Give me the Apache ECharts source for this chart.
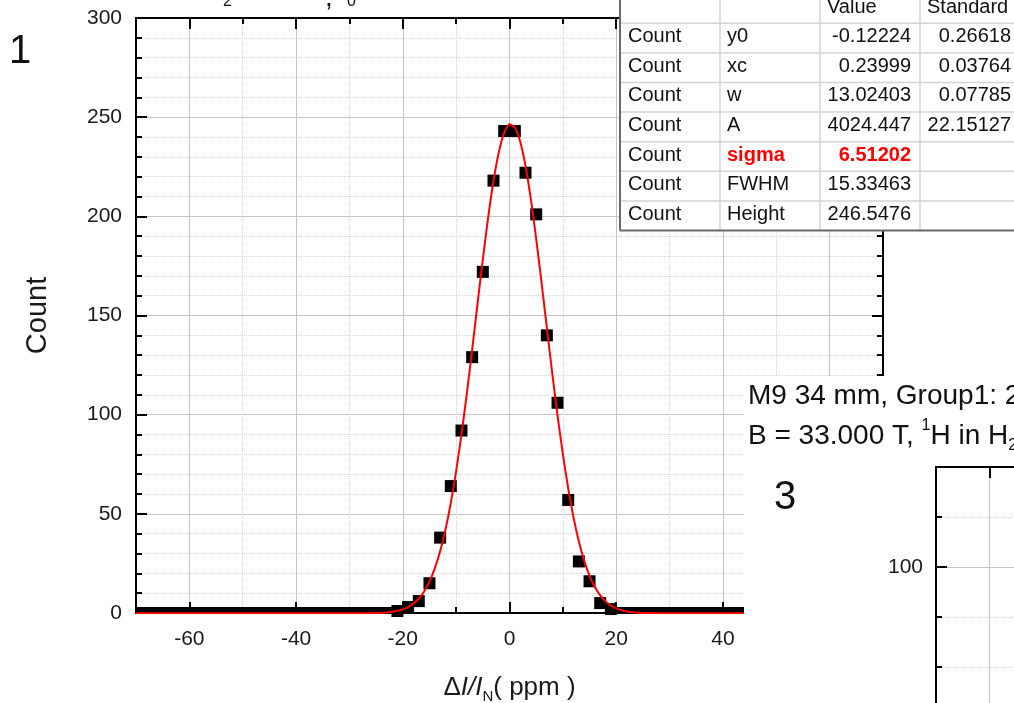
<!DOCTYPE html>
<html>
<head>
<meta charset="utf-8">
<script src="https://cdn.jsdelivr.net/npm/echarts@6/dist/echarts.min.js"></script>
<style>
html, body { margin: 0; padding: 0; background: #fff; }
#chart { width: 1014px; height: 703px; }
</style>
</head>
<body>
<div id="chart"></div>
<script>
// histogram bin centres (ppm) and counts
var binCenters = [-69,-67,-65,-63,-61,-59,-57,-55,-53,-51,-49,-47,-45,-43,-41,-39,-37,-35,-33,-31,-29,-27,-25,-23,
    -21,-19,-17,-15,-13,-11,-9,-7,-5,-3,-1,1,3,5,7,9,11,13,15,17,19,21,
    23,25,27,29,31,33,35,37,39,41,43,45,47,49,51,53,55,57,59,61,63,65,67,69];
var counts = [0,0,0,0,0,0,0,0,0,0,0,0,0,0,0,0,0,0,0,0,0,0,0,0,
    1,3,6,15,38,64,92,129,172,218,243,243,222,201,140,106,57,26,16,5,2,0,
    0,0,0,0,0,0,0,0,0,0,0,0,0,0,0,0,0,0,0,0,0,0,0,0];

// red gaussian fit curve as drawn
var fitCurve = [
    [-70,-0.12],[-50,-0.12],[-30,-0.11],[-26,-0.05],[-25,0.01],[-24,0.12],[-23,0.30],[-22,0.60],
    [-21,1.09],[-20,1.85],[-19,3.02],[-18,4.76],[-17,7.30],[-16,10.88],[-15,15.83],[-14,22.46],
    [-13,31.10],[-12,42.05],[-11,55.49],[-10,71.52],[-9,90.01],[-8,110.65],[-7,132.82],[-6,155.74],
    [-5,178.32],[-4,199.43],[-3,217.83],[-2,232.38],[-1,242.12],[0,246.38],[1,244.88],[2,237.70],
    [3,225.36],[4,208.68],[5,188.71],[6,166.68],[7,143.80],[8,121.15],[9,99.68],[10,80.11],
    [11,62.87],[12,48.18],[13,36.04],[14,26.34],[15,18.77],[16,13.07],[17,8.87],[18,5.86],
    [19,3.77],[20,2.35],[21,1.41],[22,0.81],[23,0.43],[24,0.20],[25,0.06],[26,-0.02],
    [30,-0.11],[50,-0.12],[70,-0.12]
];

// fit result table
var tableHeader = ['', '', 'Value', 'Standard'];
var paramNames = ['y0', 'xc', 'w', 'A', 'sigma', 'FWHM', 'Height'];
var paramValues = ['-0.12224', '0.23999', '13.02403', '4024.447', '6.51202', '15.33463', '246.5476'];
var paramErrors = ['0.26618', '0.03764', '0.07785', '22.15127', '', '', ''];
var highlightRow = 4;

var FONT = '"Liberation Sans", Arial, sans-serif';
var chart = echarts.init(document.getElementById('chart'));

var pts = [], zeros = [];
binCenters.forEach(function (x, i) {
    if (counts[i] > 0) pts.push([x, counts[i]]);
    else zeros.push([x, 0]);
});

var blackLine = { color: '#000', width: 2 };
var majorGrid = { show: true, lineStyle: { color: '#c4c4c4', width: 1 } };
var minorGrid = { show: true, lineStyle: { color: '#d6d6d6', width: 1, type: 'dotted' } };

// minor/major axis pair (x ticks every 10, labels every 20 from -60)
function xAxes(grid, pos, z, withLabels) {
    return [{
        gridIndex: grid, type: 'value', position: pos, min: -70, max: 70, interval: 10, z: z,
        axisLine: { onZero: false, lineStyle: blackLine },
        axisTick: { inside: true, length: 6, lineStyle: blackLine },
        axisLabel: { show: false },
        splitLine: pos === 'bottom' || grid === 1 ? minorGrid : { show: false }
    }, {
        gridIndex: grid, type: 'value', position: pos, min: -70, max: 70, splitNumber: 7, z: z,
        axisLine: { onZero: false, lineStyle: blackLine },
        axisTick: { inside: true, length: 11, lineStyle: blackLine },
        axisLabel: withLabels ? {
            fontSize: 21, fontFamily: FONT, color: '#1a1a1a', margin: 16,
            showMinLabel: false, showMaxLabel: false
        } : { show: false },
        splitLine: pos === 'bottom' || grid === 1 ? majorGrid : { show: false }
    }];
}

var xAxisList = [].concat(xAxes(0, 'bottom', 0, true), xAxes(0, 'top', 0, false), xAxes(1, 'top', 60, false));
xAxisList[1].name = '{n|Δ}{i|I/I}{sub|N}{n|( ppm )}';
xAxisList[1].nameLocation = 'middle';
xAxisList[1].nameGap = 59;
xAxisList[1].nameTextStyle = {
    color: '#1a1a1a', fontFamily: FONT,
    rich: {
        n: { fontSize: 26, fontFamily: FONT, color: '#1a1a1a', lineHeight: 32 },
        i: { fontSize: 26, fontFamily: FONT, color: '#1a1a1a', fontStyle: 'italic', lineHeight: 32 },
        sub: { fontSize: 15, fontFamily: FONT, color: '#1a1a1a', verticalAlign: 'bottom', lineHeight: 4 }
    }
};

var yAxisList = [{
    gridIndex: 0, type: 'value', position: 'left', min: 0, max: 300, interval: 50,
    axisLine: { onZero: false, lineStyle: blackLine },
    axisTick: { inside: true, length: 11, lineStyle: blackLine },
    minorTick: { show: true, splitNumber: 5, length: 6, lineStyle: blackLine },
    axisLabel: { fontSize: 21, fontFamily: FONT, color: '#1a1a1a', margin: 14 },
    splitLine: majorGrid,
    minorSplitLine: minorGrid,
    name: 'Count', nameLocation: 'middle', nameGap: 84,
    nameTextStyle: { fontSize: 29, fontFamily: FONT, color: '#1a1a1a' }
}, {
    gridIndex: 0, type: 'value', position: 'right', min: 0, max: 300, interval: 50,
    axisLine: { onZero: false, lineStyle: blackLine },
    axisTick: { inside: true, length: 11, lineStyle: blackLine },
    minorTick: { show: true, splitNumber: 5, length: 6, lineStyle: blackLine },
    axisLabel: { show: false },
    splitLine: { show: false }
}, {
    gridIndex: 1, type: 'value', position: 'left', min: 0, max: 150, interval: 25, z: 60,
    axisLine: { onZero: false, lineStyle: blackLine },
    axisTick: { inside: true, length: 6, lineStyle: blackLine },
    axisLabel: { show: false },
    splitLine: minorGrid
}, {
    gridIndex: 1, type: 'value', position: 'left', min: 0, max: 150, interval: 100, z: 60,
    axisLine: { onZero: false, lineStyle: blackLine },
    axisTick: { inside: true, length: 11, lineStyle: blackLine },
    axisLabel: { fontSize: 21, fontFamily: FONT, color: '#1a1a1a', margin: 13, showMaxLabel: false },
    splitLine: majorGrid
}];

// overlays: cut-off title, panel numbers, panel 3, fit table
var els = [];
function txt(x, y, s, size, extra) {
    var style = { text: s, fontSize: size, fontFamily: FONT, fill: '#111', verticalAlign: 'middle' };
    for (var k in extra) style[k] = extra[k];
    return { type: 'text', x: x, y: y, z: 80, style: style };
}
els.push(txt(223, -6.5, '2', 16, { verticalAlign: 'top' }));
els.push(txt(325, -16, ',', 28, { verticalAlign: 'top' }));
els.push(txt(347, -6.5, '0', 16, { verticalAlign: 'top' }));
els.push(txt(9, 52, '1', 40));

els.push({ type: 'rect', z: 50, shape: { x: 744, y: 376, width: 270, height: 327 }, style: { fill: '#fff' } });
els.push(txt(748, 396, 'M9 34 mm, Group1: 2', 28));
els.push(txt(748, 436, '{n|B = 33.000 T, }{sup|1}{n|H in H}{sub|2}{n|O}', 28, {
    rich: {
        n: { fontSize: 28, fontFamily: FONT, fill: '#111', lineHeight: 36 },
        sup: { fontSize: 16, fontFamily: FONT, fill: '#111', verticalAlign: 'top', lineHeight: 20 },
        sub: { fontSize: 16, fontFamily: FONT, fill: '#111', verticalAlign: 'bottom', lineHeight: 5 }
    }
}));
els.push(txt(774, 498, '3', 40));

var tX = 620, tColW = 100, tTop = -6.3, tRowH = 29.6;
var tBottom = tTop + 8 * tRowH;
els.push({ type: 'rect', z: 70, shape: { x: tX, y: -12, width: 400, height: tBottom + 12 }, style: { fill: '#fff' } });
for (var r = 1; r < 8; r++) {
    var ly = tTop + r * tRowH;
    els.push({ type: 'line', z: 71, shape: { x1: tX, y1: ly, x2: 1014, y2: ly }, style: { stroke: '#d4d4d4', lineWidth: 1.5 } });
}
for (var c = 1; c < 4; c++) {
    var lx = tX + c * tColW;
    els.push({ type: 'line', z: 71, shape: { x1: lx, y1: -12, x2: lx, y2: tBottom }, style: { stroke: '#d4d4d4', lineWidth: 1.5 } });
}
els.push({ type: 'line', z: 72, shape: { x1: tX, y1: -12, x2: tX, y2: tBottom }, style: { stroke: '#6a6a6a', lineWidth: 2 } });
els.push({ type: 'line', z: 72, shape: { x1: tX, y1: tBottom, x2: 1014, y2: tBottom }, style: { stroke: '#6a6a6a', lineWidth: 2 } });

function cellY(row) { return tTop + row * tRowH + tRowH / 2 - 1.5; }
els.push(txt(tX + 2 * tColW + 7, cellY(0), tableHeader[2], 20));
els.push(txt(tX + 3 * tColW + 7, cellY(0), tableHeader[3], 20));
paramNames.forEach(function (name, i) {
    var y = cellY(i + 1);
    var hl = i === highlightRow ? { fill: '#ff0000', fontWeight: 'bold' } : {};
    els.push(txt(tX + 8, y, 'Count', 20));
    els.push(txt(tX + tColW + 7, y, name, 20, hl));
    els.push(txt(tX + 3 * tColW - 9, y, paramValues[i], 20, Object.assign({ align: 'right' }, hl)));
    if (paramErrors[i]) els.push(txt(tX + 4 * tColW - 9, y, paramErrors[i], 20, { align: 'right' }));
});

var option = {
    animation: false,
    backgroundColor: '#fff',
    grid: [
        { left: 136, top: 18, width: 747, height: 595, outerBoundsMode: 'none', containLabel: false },
        { left: 936, top: 467, width: 747, height: 300, outerBoundsMode: 'none', containLabel: false }
    ],
    xAxis: xAxisList,
    yAxis: yAxisList,
    series: [{
        name: 'Count', type: 'scatter', xAxisIndex: 0, yAxisIndex: 0,
        symbol: 'rect', symbolSize: 12, itemStyle: { color: '#000', opacity: 1 }, z: 3,
        data: pts
    }, {
        name: 'Count zero', type: 'scatter', xAxisIndex: 0, yAxisIndex: 0,
        symbol: 'rect', symbolSize: [12, 6], symbolOffset: [0, -3], itemStyle: { color: '#000', opacity: 1 }, z: 3,
        data: zeros
    }, {
        name: 'Gauss fit', type: 'line', xAxisIndex: 0, yAxisIndex: 0,
        showSymbol: false, smooth: 0.2, z: 4,
        lineStyle: { color: '#ff0000', width: 2 },
        data: fitCurve
    }],
    graphic: { elements: els }
};
chart.setOption(option);
</script>
</body>
</html>
